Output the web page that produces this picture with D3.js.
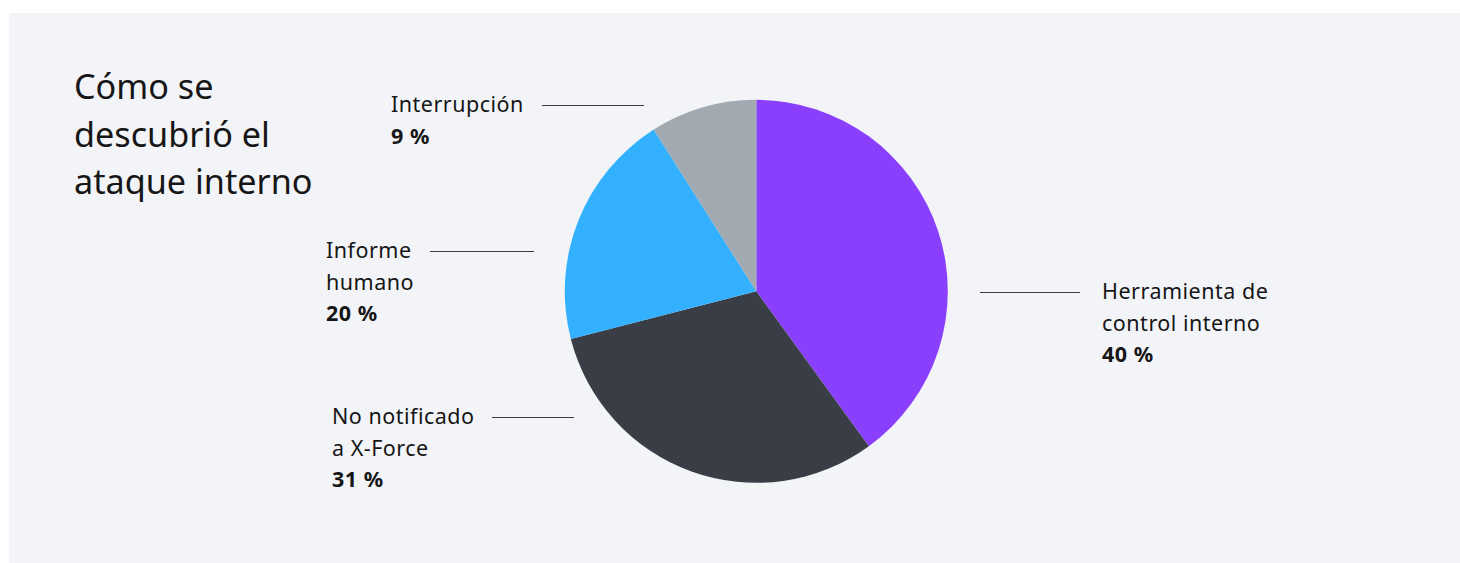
<!DOCTYPE html>
<html>
<head>
<meta charset="utf-8">
<script src="https://cdn.jsdelivr.net/npm/d3@7"></script>
<style>
  html, body { margin: 0; padding: 0; background: #ffffff; }
  svg { display: block; }
  text { font-family: "Noto Sans", "Open Sans", sans-serif; fill: #161616; }
</style>
</head>
<body>
<svg id="chart" width="1460" height="563"></svg>
<script>
// Slice categories (each label is split over lines) and their shares in percent
const categories = [
  ["Herramienta de", "control interno"],
  ["No notificado", "a X-Force"],
  ["Informe", "humano"],
  ["Interrupción"]
];
const values = [40, 31, 20, 9];
const colors = ["#8a3ffc", "#393e46", "#33b1ff", "#a2a9b0"];
const titleLines = ["Cómo se", "descubrió el", "ataque interno"];

const svg = d3.select("#chart");
const W = 1460, H = 563;

// Panel background
svg.append("rect")
  .attr("x", 9).attr("y", 13)
  .attr("width", W - 9).attr("height", H - 13)
  .attr("fill", "#f2f4f8");

// Title
svg.append("text")
  .attr("x", 74).attr("y", 99)
  .attr("font-size", 34.2)
  .selectAll("tspan")
  .data(titleLines)
  .join("tspan")
  .attr("x", 74)
  .attr("dy", (d, i) => i === 0 ? 0 : 47.5)
  .text(d => d);

// Pie
const cx = 756.3, cy = 291.3, radius = 191.5;
const data = categories.map((c, i) => ({ name: c, value: values[i], color: colors[i] }));
const pie = d3.pie().sort(null).value(d => d.value);
const arc = d3.arc().innerRadius(0).outerRadius(radius);

const g = svg.append("g").attr("transform", `translate(${cx},${cy})`);
g.selectAll("path")
  .data(pie(data))
  .join("path")
  .attr("d", arc)
  .attr("fill", d => d.data.color);

// Label placement: text anchor point and leader line ends
const labelLayout = [
  { tx: 1102, ty: 299, x1: 980, x2: 1080 },
  { tx: 332, ty: 424, x1: 492, x2: 574 },
  { tx: 326, ty: 258, x1: 430, x2: 534 },
  { tx: 391, ty: 112, x1: 542, x2: 644 }
];
const lineH = 31.6;

data.forEach((d, i) => {
  const L = labelLayout[i];
  svg.append("line")
    .attr("x1", L.x1).attr("x2", L.x2)
    .attr("y1", L.ty - 6.5).attr("y2", L.ty - 6.5)
    .attr("stroke", "#3d3d3d").attr("stroke-width", 1.2);

  const t = svg.append("text")
    .attr("x", L.tx).attr("y", L.ty)
    .attr("font-size", 21.5)
    .attr("letter-spacing", 0.5);
  d.name.forEach((line, j) => {
    t.append("tspan").attr("x", L.tx).attr("dy", j === 0 ? 0 : lineH).text(line);
  });
  t.append("tspan").attr("x", L.tx).attr("dy", lineH)
    .attr("font-weight", 700)
    .text(d.value + " %");
});
</script>
</body>
</html>
